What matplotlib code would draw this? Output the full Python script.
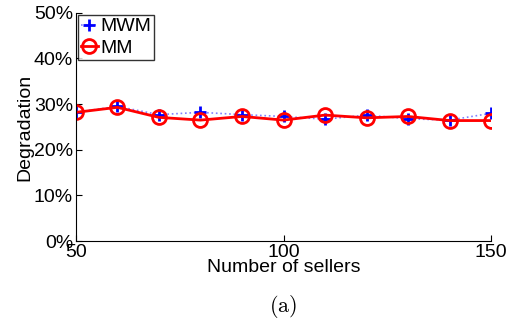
import matplotlib.pyplot as plt
import numpy as np

plt.rcParams['font.family'] = ['Liberation Sans', 'DejaVu Sans']
plt.rcParams['mathtext.fontset'] = 'cm'

sellers = [50, 60, 70, 80, 90, 100, 110, 120, 130, 140, 150]
mwm = [28.2, 29.5, 27.7, 28.2, 27.7, 27.3, 26.7, 27.6, 26.8, 26.5, 28.0]
mm = [28.2, 29.3, 27.1, 26.5, 27.3, 26.5, 27.6, 27.0, 27.3, 26.4, 26.4]

fig = plt.figure(figsize=(5.09, 3.21), dpi=100)
ax = fig.add_axes([0.149, 0.249, 0.816, 0.711])

ax.plot(sellers, mwm, color='#8080ff', linestyle=':', linewidth=1.2,
        marker='+', markersize=9, markeredgewidth=2, markeredgecolor='blue',
        label='MWM')
ax.plot(sellers, mm, color='red', linestyle='-', linewidth=2,
        marker='o', markersize=10, markeredgewidth=2, markerfacecolor='none',
        markeredgecolor='red', label='MM')

ax.set_xlim(50, 150)
ax.set_ylim(0, 50)
ax.set_xticks([50, 100, 150])
ax.set_yticks(np.arange(0, 51, 10))
ax.set_yticklabels(['%d%%' % v for v in range(0, 51, 10)])
ax.tick_params(direction='in', length=4, labelsize=14, pad=2)
ax.spines['top'].set_visible(False)
ax.spines['right'].set_visible(False)

ax.set_xlabel('Number of sellers', fontsize=14, labelpad=-1)
ax.set_ylabel('Degradation', fontsize=14, labelpad=0)

leg = ax.legend(loc='upper left', fontsize=14, frameon=True, fancybox=False,
                borderaxespad=0.1, handlelength=0.9, handletextpad=0.1,
                borderpad=0.15, labelspacing=0.2)
leg.get_frame().set_edgecolor('black')
leg.get_frame().set_linewidth(1)

# subfigure caption in the LaTeX roman face
fig.text(0.556, 0.044, r'$\mathrm{(a)}$', fontsize=16, ha='center', va='center')

fig.savefig('out.png', dpi=100)
